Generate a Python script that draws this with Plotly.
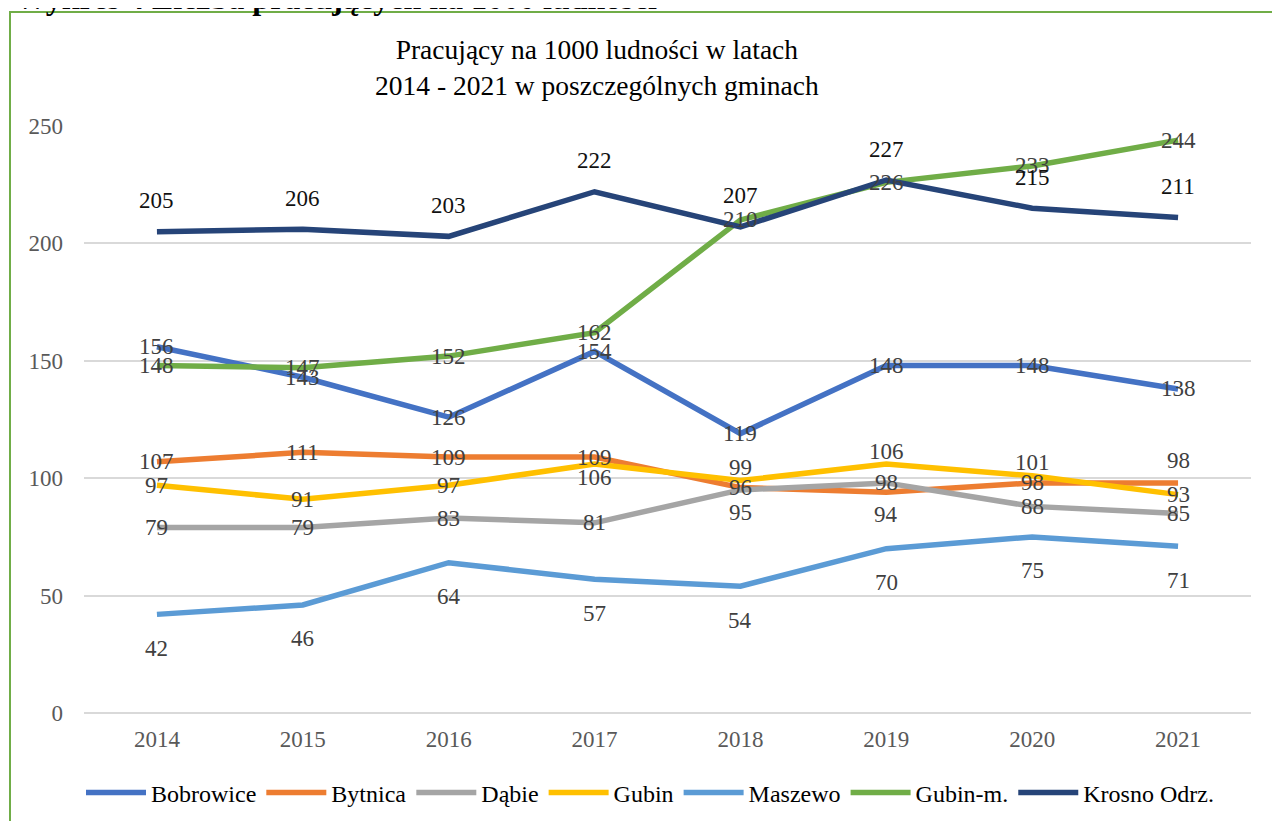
import plotly.graph_objects as go

years = ["2014", "2015", "2016", "2017", "2018", "2019", "2020", "2021"]

bobrowice = [156, 143, 126, 154, 119, 148, 148, 138]
bytnica = [107, 111, 109, 109, 96, 94, 98, 98]
dabie = [79, 79, 83, 81, 95, 98, 88, 85]
gubin = [97, 91, 97, 106, 99, 106, 101, 93]
maszewo = [42, 46, 64, 57, 54, 70, 75, 71]
gubin_m = [148, 147, 152, 162, 210, 226, 233, 244]
krosno = [205, 206, 203, 222, 207, 227, 215, 211]

series = [
    ("Bobrowice", bobrowice),
    ("Bytnica", bytnica),
    ("Dąbie", dabie),
    ("Gubin", gubin),
    ("Maszewo", maszewo),
    ("Gubin-m.", gubin_m),
    ("Krosno Odrz.", krosno),
]

# style: line colour, label placement per point (c=centre, a=above, b=below), label offset in px
styles = {
    "Bobrowice": ("#4472C4", "cccccccc", 0),
    "Bytnica": ("#ED7D31", "cccccbca", 22),
    "Dąbie": ("#A5A5A5", "ccccbccc", 23),
    "Gubin": ("#FFC000", "cccbaaac", 13),
    "Maszewo": ("#5B9BD5", "bbbbbbbb", 34),
    "Gubin-m.": ("#70AD47", "cccccccc", 0),
    "Krosno Odrz.": ("#264478", "aaaaaaaa", 31),
}

FONT = "Liberation Serif, Times New Roman, serif"

# page has an 8px body margin, so the figure sits 8px in from the corner
OFF = 8
W, H = 1280 - OFF, 821 - OFF
# plot area edges in screen pixels
PX_L, PX_R, PX_T, PX_B = 84, 1251, 126, 713
L, T = PX_L - OFF, PX_T - OFF
R, B = W - (PX_R - OFF), H - (PX_B - OFF)
PW, PH = PX_R - PX_L, PX_B - PX_T


def px_x(x):
    return (x - PX_L) / PW


def px_y(y):
    return (PX_B - y) / PH


fig = go.Figure()
annotations = []
for name, values in series:
    color, pos, off = styles[name]
    fig.add_trace(go.Scatter(
        x=years, y=values, name=name, mode="lines",
        line=dict(color=color, width=5.5),
    ))
    label_color = "#111111" if name == "Krosno Odrz." else "#404040"
    for i, (v, p) in enumerate(zip(values, pos)):
        shift = {"c": 0, "a": off, "b": -off}[p]
        annotations.append(dict(
            x=i, y=v, xref="x", yref="y", text=str(v), showarrow=False,
            yshift=shift, xanchor="center", yanchor="middle",
            font=dict(family=FONT, size=23, color=label_color),
        ))

annotations.append(dict(
    x=px_x(597), y=px_y(68), xref="paper", yref="paper",
    text="Pracujący na 1000 ludności w latach<br>2014 - 2021 w poszczególnych gminach",
    showarrow=False, xanchor="center", yanchor="middle",
    font=dict(family=FONT, size=27.5, color="#000000"),
))
annotations.append(dict(
    x=px_x(13), y=px_y(18), xref="paper", yref="paper",
    text="<b>Wykres 4 Liczba pracujących na 1000 ludności</b>",
    showarrow=False, xanchor="left", yanchor="bottom",
    font=dict(family=FONT, size=32, color="#000000"),
))

fig.update_layout(
    width=W, height=H,
    margin=dict(l=L, r=R, t=T, b=B, autoexpand=False),
    paper_bgcolor="white", plot_bgcolor="white",
    annotations=annotations,
    shapes=[dict(
        type="rect", xref="paper", yref="paper",
        x0=px_x(10), x1=px_x(1300), y0=px_y(840), y1=px_y(12),
        line=dict(color="#70AD47", width=2), layer="below",
    )],
    legend=dict(
        orientation="h", x=px_x(650), xanchor="center",
        y=px_y(793), yanchor="middle",
        font=dict(family=FONT, size=24, color="#000000"),
        itemwidth=60, traceorder="normal",
    ),
    xaxis=dict(
        type="category", range=[-0.5, 7.5], showgrid=False, zeroline=False,
        showline=False, ticks="", ticklabelstandoff=10,
        tickfont=dict(family=FONT, size=23, color="#595959"),
    ),
    yaxis=dict(
        range=[0, 250], dtick=50, showgrid=True, gridcolor="#D9D9D9",
        gridwidth=1.5, zeroline=True, zerolinecolor="#D9D9D9",
        zerolinewidth=1.5, showline=False, ticks="",
        ticklabelstandoff=20,
        tickfont=dict(family=FONT, size=23, color="#595959"),
    ),
)

fig.write_html("out.html")
